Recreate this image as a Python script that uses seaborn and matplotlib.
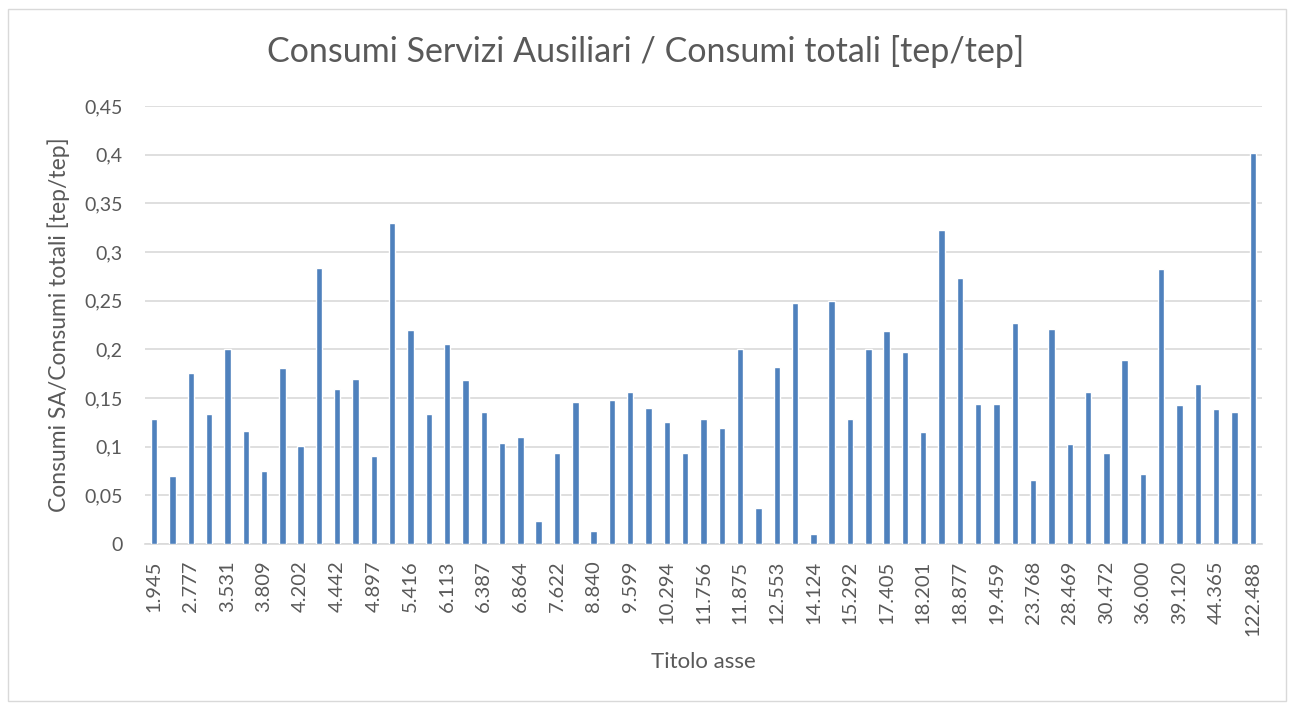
import matplotlib
matplotlib.use("Agg")
from matplotlib import pyplot as plt
from matplotlib.patches import Rectangle
import seaborn as sns
import pandas as pd

# category labels (only every other one is shown on the axis)
shown_labels = ["1.945", "2.777", "3.531", "3.809", "4.202", "4.442", "4.897", "5.416",
                "6.113", "6.387", "6.864", "7.622", "8.840", "9.599", "10.294", "11.756",
                "11.875", "12.553", "14.124", "15.292", "17.405", "18.201", "18.877",
                "19.459", "23.768", "28.469", "30.472", "36.000", "39.120", "44.365",
                "122.488"]
# labels hidden by the axis (estimated)
hidden_labels = ["2.310", "3.102", "3.684", "3.950", "4.318", "4.615", "5.120", "5.873",
                 "6.240", "6.602", "7.215", "8.105", "9.230", "9.910", "11.020", "11.810",
                 "12.140", "13.300", "14.780", "16.350", "17.880", "18.540", "19.120",
                 "21.400", "26.050", "29.600", "33.200", "37.450", "41.800", "60.250"]

ratio = [0.128, 0.070, 0.176, 0.134, 0.200, 0.116, 0.075, 0.181, 0.101, 0.284,
         0.159, 0.170, 0.090, 0.330, 0.220, 0.134, 0.205, 0.168, 0.136, 0.104,
         0.110, 0.024, 0.093, 0.146, 0.013, 0.148, 0.156, 0.140, 0.125, 0.093,
         0.128, 0.119, 0.200, 0.037, 0.182, 0.248, 0.010, 0.250, 0.128, 0.200,
         0.219, 0.197, 0.115, 0.323, 0.273, 0.144, 0.144, 0.227, 0.066, 0.221,
         0.103, 0.156, 0.094, 0.189, 0.072, 0.283, 0.143, 0.164, 0.139, 0.136,
         0.402]

categories = []
for i, lab in enumerate(shown_labels):
    categories.append(lab)
    if i < len(hidden_labels):
        categories.append(hidden_labels[i])

df = pd.DataFrame({"cat": categories, "val": ratio})

sns.set_style("white")
plt.rcParams["font.family"] = ["Lato", "DejaVu Sans"]
txt = "#595959"

fig = plt.figure(figsize=(12.92, 7.05), dpi=100)
ax = fig.add_axes([145 / 1292, 1 - 544 / 705, (1262 - 145) / 1292, (544 - 106) / 705])

sns.barplot(data=df, x="cat", y="val", order=categories, color="#4F81BD",
            saturation=1, width=0.35, ax=ax, zorder=3)

ax.set_xlim(-0.5, len(categories) - 0.5)
ax.set_ylim(0, 0.45)
yt = [i * 0.05 for i in range(10)]
ax.set_yticks(yt)
ax.set_yticklabels([("%g" % round(v, 2)).replace(".", ",") for v in yt],
                   fontsize=14, color=txt)
ax.yaxis.grid(True, color="#D9D9D9", lw=1.2, zorder=0)
ax.set_xticks(range(0, len(categories), 2))
ax.set_xticklabels(shown_labels, rotation=90, fontsize=14.5, color=txt)
ax.tick_params(axis="y", length=0, pad=16)
ax.tick_params(axis="x", length=0, pad=12)
for s in ["top", "right", "left"]:
    ax.spines[s].set_visible(False)
ax.spines["bottom"].set_color("#D9D9D9")
ax.spines["bottom"].set_linewidth(1.2)

ax.set_xlabel("Titolo asse", fontsize=16, color=txt, labelpad=12)
ax.set_ylabel("Consumi SA/Consumi totali [tep/tep]", fontsize=16.5, color=txt, labelpad=10)
fig.text(0.5, 1 - 52 / 705, "Consumi Servizi Ausiliari / Consumi totali [tep/tep]",
         ha="center", va="center", fontsize=24.5, color=txt)

fig.patches.append(Rectangle((8 / 1292, 0.005), 1 - 14 / 1292, 1 - 13 / 705,
                             transform=fig.transFigure, fill=False,
                             edgecolor="#D9D9D9", lw=1))

fig.savefig("out.png", dpi=100)
